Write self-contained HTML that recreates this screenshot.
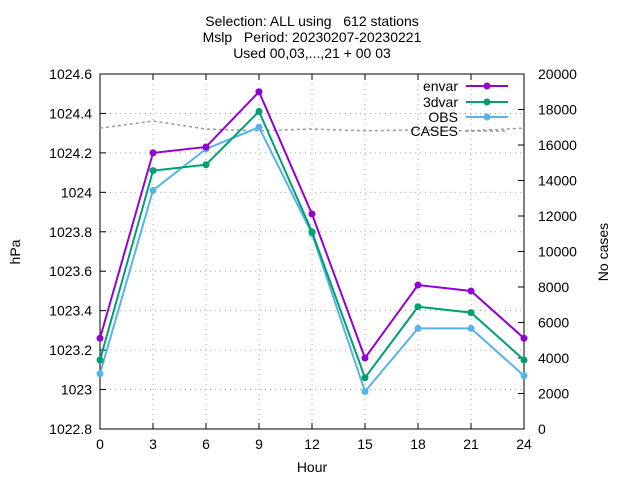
<!DOCTYPE html>
<html><head><meta charset="utf-8"><style>body{margin:0;background:#fff}svg{font-family:"Liberation Sans",sans-serif}text{white-space:pre}</style></head>
<body>
<svg id="c" width="640" height="480" xmlns="http://www.w3.org/2000/svg">
<text x="312" y="26" font-size="14" text-anchor="middle">Selection: ALL using   612 stations</text>
<text x="312" y="42" font-size="14" text-anchor="middle">Mslp   Period: 20230207-20230221</text>
<text x="312" y="58" font-size="14" text-anchor="middle">Used 00,03,...,21 + 00 03</text>
<text x="20" y="252" font-size="14" text-anchor="middle" transform="rotate(-90 20 252)">hPa</text>
<text x="608" y="252" font-size="14" text-anchor="middle" transform="rotate(-90 608 252)">No cases</text>
<text x="312" y="472" font-size="14" text-anchor="middle">Hour</text>
<g id="grid"></g><g id="axes"></g><g id="series"></g><g id="legend"></g>
</svg>
<script>
const hours=[0,3,6,9,12,15,18,21,24];
const envar=[1023.26,1024.2,1024.23,1024.51,1023.89,1023.16,1023.53,1023.5,1023.26];
const dvar3=[1023.15,1024.11,1024.14,1024.41,1023.8,1023.06,1023.42,1023.39,1023.15];
const obs=[1023.08,1024.01,1024.22,1024.33,1023.79,1022.99,1023.31,1023.31,1023.07];
const cases=[16950,17350,16900,16800,16900,16800,16850,16800,16950];
const yTicks=[1022.8,1023,1023.2,1023.4,1023.6,1023.8,1024,1024.2,1024.4,1024.6];
const yLabels=["1022.8","1023","1023.2","1023.4","1023.6","1023.8","1024","1024.2","1024.4","1024.6"];
const y2Ticks=[0,2000,4000,6000,8000,10000,12000,14000,16000,18000,20000];
const L=100,R=524,T=74,B=429;
const X=h=>L+(h-0)/24*(R-L);
const Y=v=>B-(v-1022.8)/1.8*(B-T);
const Y2=v=>B-v/20000*(B-T);
const NS="http://www.w3.org/2000/svg";
function mk(p,tag,a){const e=document.createElementNS(NS,tag);for(const k in a)e.setAttribute(k,a[k]);document.getElementById(p).appendChild(e);return e;}
hours.forEach(h=>{
 const g=mk('grid','line',{x1:X(h),x2:X(h),y1:T,y2:B,stroke:'#aaa','stroke-dasharray':'1,4'});
 
 
 const t=mk('axes','text',{x:X(h),y:B+20,'font-size':14,'text-anchor':'middle'});t.textContent=h;
 
 
 mk('axes','line',{x1:X(h),x2:X(h),y1:B,y2:B-6,stroke:'#000'});
 mk('axes','line',{x1:X(h),x2:X(h),y1:T,y2:T+6,stroke:'#000'});
});
yTicks.forEach((v,i)=>{
 const g=mk('grid','line',{x1:L,x2:R,y1:Y(v),y2:Y(v),stroke:'#aaa','stroke-dasharray':'1,4'});
 
 
 const t=mk('axes','text',{x:L-8,y:Y(v)+5,'font-size':14,'text-anchor':'end'});t.textContent=yLabels[i];
 
 
 mk('axes','line',{x1:L,x2:L+6,y1:Y(v),y2:Y(v),stroke:'#000'});
});
y2Ticks.forEach(v=>{
 const t=mk('axes','text',{x:R+14,y:Y2(v)+5,'font-size':14});t.textContent=v;
 
 
 mk('axes','line',{x1:R,x2:R-6,y1:Y2(v),y2:Y2(v),stroke:'#000'});
});
const fr=mk('axes','rect',{x:L,y:T,width:R-L,height:B-T,fill:'none',stroke:'#000'});


function series(name,vals,col,yf,marker,dash){
 const pts=hours.map((h,i)=>X(h)+','+yf(vals[i])).join(' ');
 const p=mk('series','polyline',{points:pts,fill:'none',stroke:col,'stroke-width':dash?1.5:2,'stroke-dasharray':dash||'none'});
 
 
 if(marker)hours.forEach((h,i)=>{const m=mk('series','circle',{cx:X(h),cy:yf(vals[i]),r:3.5,fill:col});
  
  });
}
series('cases',cases,'#999',Y2,false,'3,3');
series('obs',obs,'#56b4e9',Y,true);
series('3dvar',dvar3,'#009e73',Y,true);
series('envar',envar,'#9400d3',Y,true);
[['envar','#9400d3',86,1],['3dvar','#009e73',102,1],['OBS','#56b4e9',117,1],['CASES','#999',131,0]].forEach(([n,c,y,m])=>{
 const t=mk('legend','text',{x:458,y:y+5,'font-size':14,'text-anchor':'end'});t.textContent=n;
 
 
 mk('legend','line',{x1:466,x2:508,y1:y,y2:y,stroke:c,'stroke-width':m?2:1.5,'stroke-dasharray':m?'none':'3,3'});
 if(m)mk('legend','circle',{cx:487,cy:y,r:3.5,fill:c});
});
</script>
</body></html>
